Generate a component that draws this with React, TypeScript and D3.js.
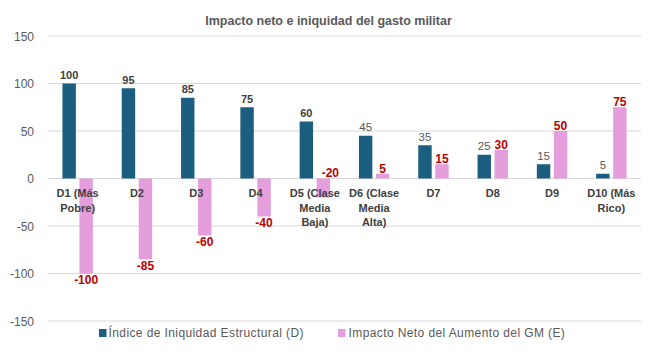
import React from "react";
import * as d3 from "d3";

const categories = ["D1", "D2", "D3", "D4", "D5", "D6", "D7", "D8", "D9", "D10"];
const categoryLines = [
  ["D1 (Más", "Pobre)"],
  ["D2"],
  ["D3"],
  ["D4"],
  ["D5 (Clase", "Media", "Baja)"],
  ["D6 (Clase", "Media", "Alta)"],
  ["D7"],
  ["D8"],
  ["D9"],
  ["D10 (Más", "Rico)"],
];
const seriesD = [100, 95, 85, 75, 60, 45, 35, 25, 15, 5];
const seriesE = [-100, -85, -60, -40, -20, 5, 15, 30, 50, 75];
const yTicks = [-150, -100, -50, 0, 50, 100, 150];
const seriesNames = ["Índice de Iniquidad Estructural (D)", "Impacto Neto del Aumento del GM (E)"];
const title = "Impacto neto e iniquidad del gasto militar";

const W = 652;
const H = 357;
const FONT = "'Liberation Sans', Arial, sans-serif";
const TEAL = "#1B5E7F";
const PINK = "#E59EDC";
const RED = "#C00000";
const GREY = "#595959";
const DARK = "#404040";

export default function App() {
  const x0 = d3.scaleBand<string>().domain(categories).range([48, 641]).paddingInner(0).paddingOuter(0);
  const x1 = d3
    .scaleBand<string>()
    .domain(["D", "E"])
    .range([0, x0.bandwidth()])
    .paddingInner(0.21)
    .paddingOuter(0.85);
  const y = d3.scaleLinear().domain([-150, 150]).range([321, 36]);
  const bw = x1.bandwidth();

  return (
    <svg width={W} height={H} style={{ position: "absolute", left: 0, top: 0, background: "#fff" }} fontFamily={FONT}>
      <rect x={0} y={0} width={W} height={H} fill="#fff" />
      <text x={328.5} y={25} textAnchor="middle" fontSize={12.5} fontWeight="bold" fill={GREY}>
        {title}
      </text>
      {yTicks.map((t) => (
        <g key={t}>
          <line x1={48} x2={641} y1={y(t)} y2={y(t)} stroke="#D9D9D9" strokeWidth={1} />
          <text x={34} y={y(t) + 4.5} textAnchor="end" fontSize={12} fill={GREY}>
            {t}
          </text>
        </g>
      ))}
      {categories.map((c, i) => {
        const gx = x0(c)!;
        const vd = seriesD[i];
        const ve = seriesE[i];
        const xd = gx + x1("D")!;
        const xe = gx + x1("E")!;
        const special = ve < 0 && ve > -30;
        return (
          <g key={c}>
            <rect x={xd} width={bw} y={y(Math.max(0, vd))} height={Math.abs(y(vd) - y(0))} fill={TEAL} />
            <rect x={xe} width={bw} y={y(Math.max(0, ve))} height={Math.abs(y(ve) - y(0))} fill={PINK} />
            <text
              x={xd + bw / 2}
              y={y(vd) - 4.5}
              textAnchor="middle"
              fontSize={i < 5 ? 11 : 11.5}
              fontWeight={i < 5 ? "bold" : "normal"}
              fill={i < 5 ? DARK : GREY}
            >
              {vd}
            </text>
            <text
              x={xe + bw / 2 + (special ? 7 : 0)}
              y={special ? y(0) - 2 : ve >= 0 ? y(ve) - 1 : y(ve) + 10.5}
              textAnchor="middle"
              fontSize={12}
              fontWeight="bold"
              fill={RED}
            >
              {ve}
            </text>
            {categoryLines[i].map((ln, k) => (
              <text
                key={k}
                x={gx + x0.bandwidth() / 2}
                y={197 + k * 14.5}
                textAnchor="middle"
                fontSize={11}
                fontWeight="bold"
                fill={DARK}
              >
                {ln}
              </text>
            ))}
          </g>
        );
      })}
      <g>
        <rect x={99} y={329} width={7.5} height={8} fill={TEAL} />
        <text x={108.5} y={337} fontSize={12} letterSpacing={0.4} fill={GREY}>
          {seriesNames[0]}
        </text>
        <rect x={338} y={329} width={7.5} height={8} fill={PINK} />
        <text x={348.5} y={337} fontSize={12} letterSpacing={0.4} fill={GREY}>
          {seriesNames[1]}
        </text>
      </g>
    </svg>
  );
}
